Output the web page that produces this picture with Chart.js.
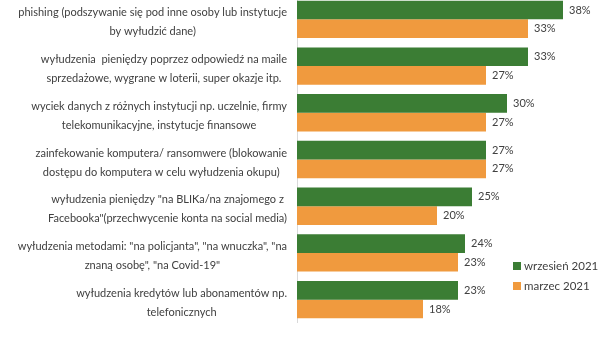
<!DOCTYPE html>
<html>
<head>
<meta charset="utf-8">
<script src="https://cdn.jsdelivr.net/npm/chart.js@4"></script>
<style>
  html, body { margin: 0; padding: 0; background: #fff; overflow: hidden; }
  #wrap { position: absolute; left: 0; top: -4px; width: 605px; height: 327px; }
</style>
</head>
<body>
<div id="wrap"><canvas id="chart"></canvas></div>
<script>
// categories (each label split in lines as in the picture)
const categories = [
    ['phishing (podszywanie się pod inne osoby lub instytucje', 'by wyłudzić dane)'],
    ['wyłudzenia  pieniędzy poprzez odpowiedź na maile', 'sprzedażowe, wygrane w loterii, super okazje itp.'],
    ['wyciek danych z różnych instytucji np. uczelnie, firmy', 'telekomunikacyjne, instytucje finansowe'],
    ['zainfekowanie komputera/ ransomwere (blokowanie', 'dostępu do komputera w celu wyłudzenia okupu)'],
    ['wyłudzenia pieniędzy "na BLIKa/na znajomego z', 'Facebooka"(przechwycenie konta na social media)'],
    ['wyłudzenia metodami: "na policjanta", "na wnuczka", "na', 'znaną osobę", "na Covid-19"'],
    ['wyłudzenia kredytów lub abonamentów np.', 'telefonicznych']
];
const seriesNames = ['wrzesień 2021', 'marzec 2021'];
const wrzesien = [38, 33, 30, 27, 25, 24, 23];
const marzec = [33, 27, 27, 27, 20, 23, 18];

const GREEN = '#3b7d34';
const ORANGE = '#f09a3e';
const TXT = '#404040';
const FONT = '11px Lato, "Open Sans", sans-serif';

// y labels: right-aligned block, lines centred inside it
const labelPlugin = {
    id: 'labels',
    afterDraw(chart) {
        const ctx = chart.ctx;
        const y = chart.scales.y;
        const right = chart.chartArea.left - 10;
        ctx.save();
        ctx.font = FONT;
        ctx.fillStyle = TXT;
        ctx.textAlign = 'center';
        ctx.textBaseline = 'middle';
        categories.forEach((lines, i) => {
            const w = Math.max(...lines.map(l => ctx.measureText(l).width));
            const cx = right - w / 2;
            const yc = y.getPixelForValue(i) + 3;
            const lh = 19;
            lines.forEach((l, k) => {
                ctx.fillText(l, cx, yc + (k - (lines.length - 1) / 2) * lh);
            });
        });

        // value labels
        ctx.textAlign = 'left';
        chart.data.datasets.forEach((ds, di) => {
            chart.getDatasetMeta(di).data.forEach((bar, i) => {
                ctx.fillText(ds.data[i] + '%', bar.x + 6, bar.y);
            });
        });

        // legend
        const lx = 513, ly = [270, 290];
        ctx.font = '11.5px Lato, "Open Sans", sans-serif';
        chart.data.datasets.forEach((ds, di) => {
            ctx.fillStyle = ds.backgroundColor;
            ctx.fillRect(lx, ly[di] - 4, 8, 8);
            ctx.fillStyle = TXT;
            ctx.fillText(ds.label, lx + 11, ly[di]);
        });
        ctx.restore();
    }
};

new Chart(document.getElementById('chart'), {
    type: 'bar',
    data: {
        labels: categories,
        datasets: [
            { label: seriesNames[0], data: wrzesien, backgroundColor: GREEN },
            { label: seriesNames[1], data: marzec, backgroundColor: ORANGE }
        ]
    },
    options: {
        indexAxis: 'y',
        responsive: true,
        maintainAspectRatio: false,
        animation: false,
        layout: { padding: 0 },
        datasets: { bar: { categoryPercentage: 0.8, barPercentage: 1.0 } },
        scales: {
            x: { display: false, min: 0, max: 44 },
            y: {
                grid: { display: false },
                border: { display: true, color: '#d9d9d9' },
                ticks: { display: false },
                afterFit(scale) { scale.width = 297; }
            }
        },
        plugins: {
            legend: { display: false },
            tooltip: { enabled: false }
        }
    },
    plugins: [labelPlugin]
});
</script>
</body>
</html>
